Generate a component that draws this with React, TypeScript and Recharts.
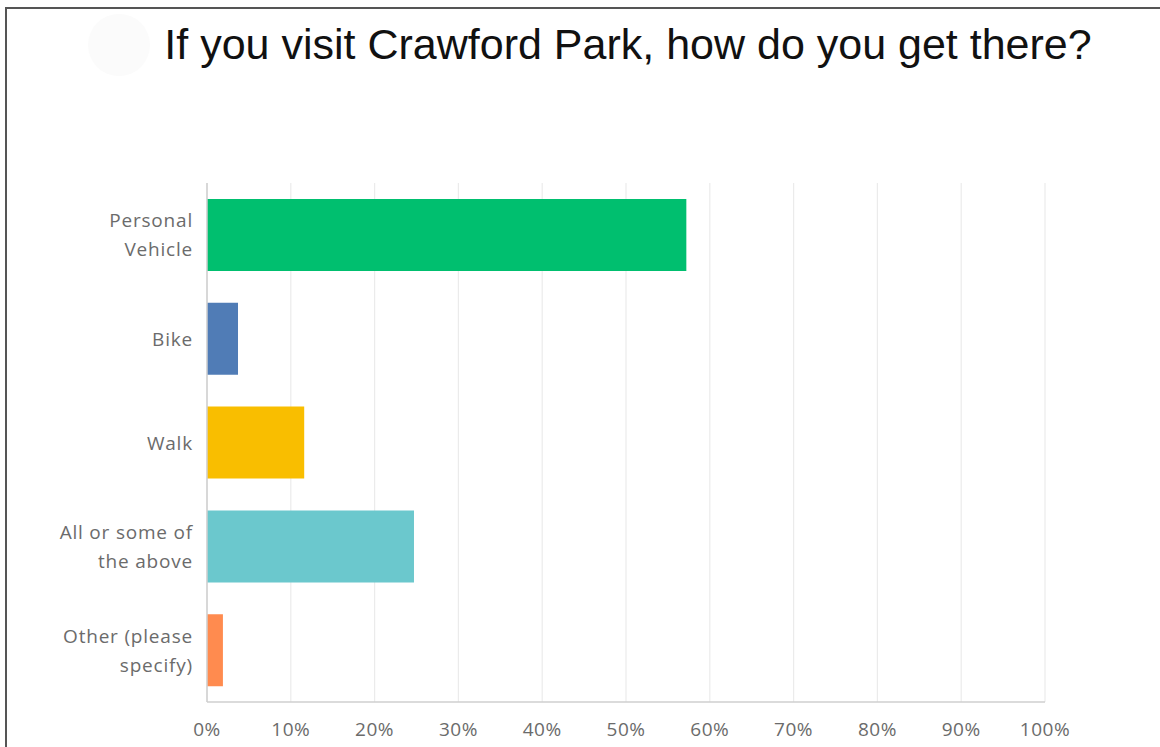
import React from "react";
import { BarChart, Bar, XAxis, YAxis, CartesianGrid, Cell } from "recharts";

const categories = ["Personal\nVehicle", "Bike", "Walk", "All or some of\nthe above", "Other (please\nspecify)"];
const values = [57.2, 3.7, 11.6, 24.7, 1.9];
const colors = ["#00BF6F", "#507CB6", "#F9BE00", "#6BC8CD", "#FF8B4F"];
const xTicks = [0, 10, 20, 30, 40, 50, 60, 70, 80, 90, 100];
const title = "If you visit Crawford Park, how do you get there?";

const data = categories.map((c, i) => ({ name: c, value: values[i] }));

const LABEL_FONT = "'Open Sans', 'Noto Sans', sans-serif";

const YTick = (props: any) => {
  const { x, y, payload } = props;
  const lines = String(payload.value).split("\n");
  const lh = 29;
  const start = -((lines.length - 1) * lh) / 2;
  return (
    <text
      x={x - 6}
      y={y}
      textAnchor="end"
      fill="#6b6b6b"
      fontSize={19}
      letterSpacing={0.8}
      fontFamily={LABEL_FONT}
    >
      {lines.map((l, i) => (
        <tspan key={i} x={x - 6} dy={i === 0 ? start + 7 : lh}>
          {l}
        </tspan>
      ))}
    </text>
  );
};

const XTick = (props: any) => {
  const { x, y, payload } = props;
  return (
    <text x={x} y={y + 26} textAnchor="middle" fill="#6b6b6b" fontSize={19} letterSpacing={0.5} fontFamily={LABEL_FONT}>
      {payload.value}%
    </text>
  );
};

export default function App() {
  return (
    <div
      style={{
        position: "absolute",
        left: 0,
        top: 0,
        width: 1160,
        height: 747,
        background: "#fff",
        overflow: "hidden",
      }}
    >
      <div
        style={{
          position: "absolute",
          left: 5,
          top: 7,
          width: 1160,
          height: 760,
          borderTop: "2px solid #555",
          borderLeft: "2px solid #555",
          boxSizing: "border-box",
        }}
      />
      <div
        style={{
          position: "absolute",
          left: 88,
          top: 14,
          width: 62,
          height: 62,
          borderRadius: "50%",
          background: "#fbfbfb",
        }}
      />
      <div
        style={{
          position: "absolute",
          left: 0,
          top: 17,
          width: 1256,
          textAlign: "center",
          fontFamily: "'Liberation Sans', Arial, sans-serif",
          fontSize: 43,
          color: "#111",
          lineHeight: "54px",
          whiteSpace: "nowrap",
        }}
      >
        {title}
      </div>
      <div style={{ position: "absolute", left: 0, top: 0 }}>
        <BarChart
          width={1160}
          height={747}
          data={data}
          layout="vertical"
          margin={{ top: 183, right: 115, bottom: 5, left: 0 }}
          barSize={72}
        >
          <CartesianGrid horizontal={false} stroke="#ebebeb" strokeWidth={1.2} />
          <XAxis
            type="number"
            domain={[0, 100]}
            ticks={xTicks}
            interval={0}
            tickLine={false}
            axisLine={{ stroke: "#cfcfcf", strokeWidth: 1.5 }}
            height={40}
            tick={<XTick />}
          />
          <YAxis
            type="category"
            dataKey="name"
            width={207}
            tickLine={false}
            axisLine={{ stroke: "#cfcfcf", strokeWidth: 1.5 }}
            tick={<YTick />}
            interval={0}
          />
          <Bar dataKey="value" isAnimationActive={false}>
            {data.map((d, i) => (
              <Cell key={i} fill={colors[i]} />
            ))}
          </Bar>
        </BarChart>
      </div>
    </div>
  );
}
